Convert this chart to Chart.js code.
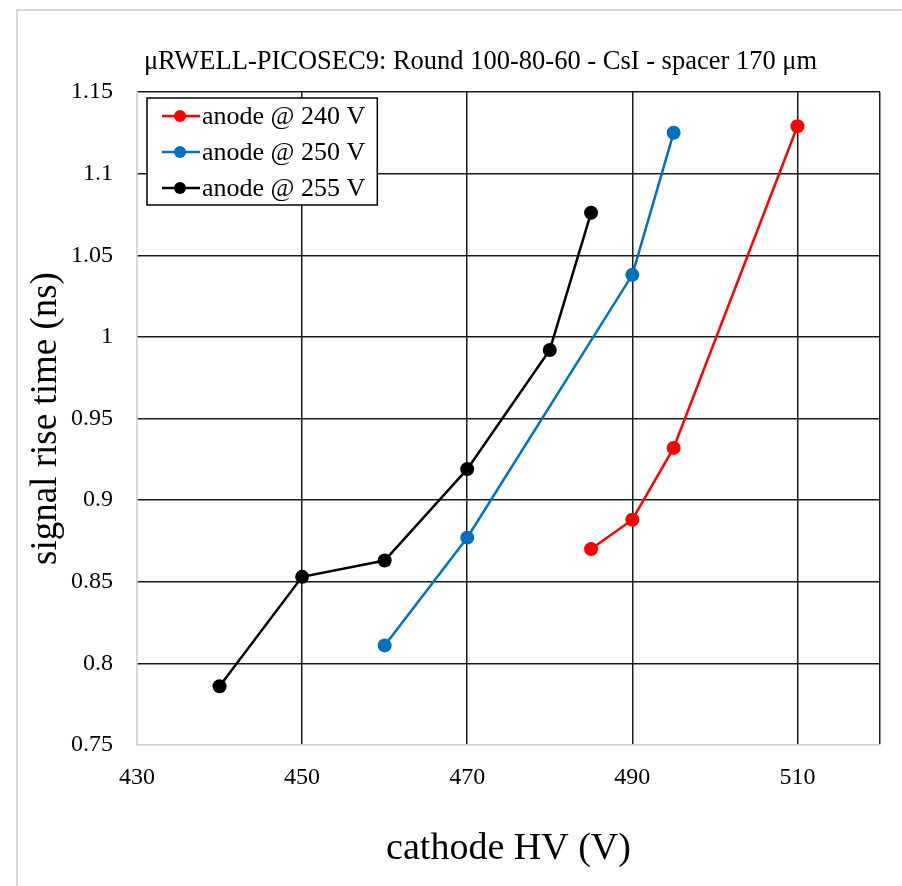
<!DOCTYPE html>
<html>
<head>
<meta charset="utf-8">
<script src="https://cdn.jsdelivr.net/npm/chart.js@4"></script>
<style>
  html, body { margin: 0; padding: 0; background: #fff; }
  #wrap { width: 902px; height: 886px; }
</style>
</head>
<body>
<div id="wrap"><canvas id="riseTime" width="902" height="886"></canvas></div>
<script>
  // Values (cathode HV in V, rise time in ns)
  const seriesNames = ['anode @ 240 V', 'anode @ 250 V', 'anode @ 255 V'];
  const seriesColors = ['#ff0000', '#0070c0', '#000000'];

  const hv240 = [485, 490, 495, 510];
  const rise240 = [0.870, 0.888, 0.932, 1.129];

  const hv250 = [460, 470, 490, 495];
  const rise250 = [0.811, 0.877, 1.038, 1.125];

  const hv255 = [440, 450, 460, 470, 480, 485];
  const rise255 = [0.786, 0.853, 0.863, 0.919, 0.992, 1.076];

  // x gridlines / labels (520 is the right edge, no label)
  const xTicks = [430, 450, 470, 490, 510, 520];
  const xLabels = ['430', '450', '470', '490', '510', ''];

  const titleText = 'μRWELL-PICOSEC9: Round 100-80-60 - CsI - spacer 170 μm';

  const serif = '"Liberation Serif", "DejaVu Serif", serif';
  const gridDark = '#1a1a1a';
  const axisGray = '#d4d4d4';

  function toPoints(xs, ys) {
    return xs.map((x, i) => ({ x: x, y: ys[i] }));
  }

  const allX = [hv240, hv250, hv255];
  const allY = [rise240, rise250, rise255];

  const datasets = seriesNames.map((name, i) => ({
    label: name,
    data: toPoints(allX[i], allY[i]),
    borderColor: seriesColors[i],
    backgroundColor: seriesColors[i],
    pointBackgroundColor: seriesColors[i],
    pointBorderWidth: 0,
    pointRadius: 7,
    borderWidth: 2.5,
    fill: false,
    tension: 0
  }));

  // outer light frame + title + legend box inside plot
  const decorations = {
    id: 'decorations',
    beforeDraw(chart) {
      const c = chart.ctx;
      c.save();
      c.strokeStyle = '#d9d9d9';
      c.lineWidth = 2;
      c.strokeRect(17, 10, 1000, 1000);
      c.restore();
    },
    afterDraw(chart) {
      const c = chart.ctx;
      const area = chart.chartArea;
      c.save();

      // title
      c.fillStyle = '#000';
      c.font = '26.5px ' + serif;
      c.textAlign = 'center';
      c.textBaseline = 'middle';
      c.fillText(titleText, (area.left + area.right) / 2 - 28, 62);

      // legend
      c.font = '26px ' + serif;
      c.textAlign = 'left';
      let maxW = 0;
      seriesNames.forEach(n => { maxW = Math.max(maxW, c.measureText(n).width); });
      const bx = area.left + 10, by = area.top + 6;
      const bw = 55 + maxW + 12, bh = 107;
      c.fillStyle = '#fff';
      c.fillRect(bx, by, bw, bh);
      c.strokeStyle = '#000';
      c.lineWidth = 1.5;
      c.strokeRect(bx, by, bw, bh);
      seriesNames.forEach((n, i) => {
        const y = by + 18 + i * 36;
        c.strokeStyle = seriesColors[i];
        c.lineWidth = 2.5;
        c.beginPath();
        c.moveTo(bx + 15, y);
        c.lineTo(bx + 53, y);
        c.stroke();
        c.fillStyle = seriesColors[i];
        c.beginPath();
        c.arc(bx + 33, y, 6, 0, Math.PI * 2);
        c.fill();
        c.fillStyle = '#000';
        c.fillText(n, bx + 55, y + 1);
      });
      c.restore();
    }
  };

  const ctx = document.getElementById('riseTime').getContext('2d');
  new Chart(ctx, {
    type: 'line',
    data: { datasets: datasets },
    plugins: [decorations],
    options: {
      responsive: false,
      animation: false,
      layout: { padding: { left: 20, right: 22, top: 92, bottom: 0 } },
      plugins: {
        legend: { display: false },
        title: { display: false },
        tooltip: { enabled: false }
      },
      scales: {
        x: {
          type: 'linear',
          min: 430,
          max: 520,
          afterFit: s => { s.height = 141; },
          afterBuildTicks: s => { s.ticks = xTicks.map(v => ({ value: v })); },
          ticks: {
            padding: 18,
            color: '#000',
            font: { family: serif, size: 24 },
            callback: (v, i) => xLabels[i]
          },
          grid: {
            drawTicks: false,
            lineWidth: 1.5,
            color: c => (c.tick && c.tick.value === 430 ? axisGray : gridDark)
          },
          border: { display: true, color: axisGray, width: 1.5 },
          title: {
            display: true,
            text: 'cathode HV (V)',
            color: '#000',
            font: { family: serif, size: 38 },
            padding: { top: 0, bottom: 14 }
          }
        },
        y: {
          min: 0.75,
          max: 1.15,
          afterFit: s => { s.width = 117; },
          ticks: {
            stepSize: 0.05,
            padding: 24,
            color: '#000',
            font: { family: serif, size: 24 },
            callback: v => String(Number(v.toFixed(2)))
          },
          grid: {
            drawTicks: false,
            lineWidth: 1.5,
            color: c => (c.tick && Math.abs(c.tick.value - 0.75) < 1e-6 ? axisGray : gridDark)
          },
          border: { display: true, color: axisGray, width: 1.5 },
          title: {
            display: true,
            text: 'signal rise time (ns)',
            color: '#000',
            font: { family: serif, size: 37 },
            padding: { top: 4, bottom: 0 }
          }
        }
      }
    }
  });
</script>
</body>
</html>
